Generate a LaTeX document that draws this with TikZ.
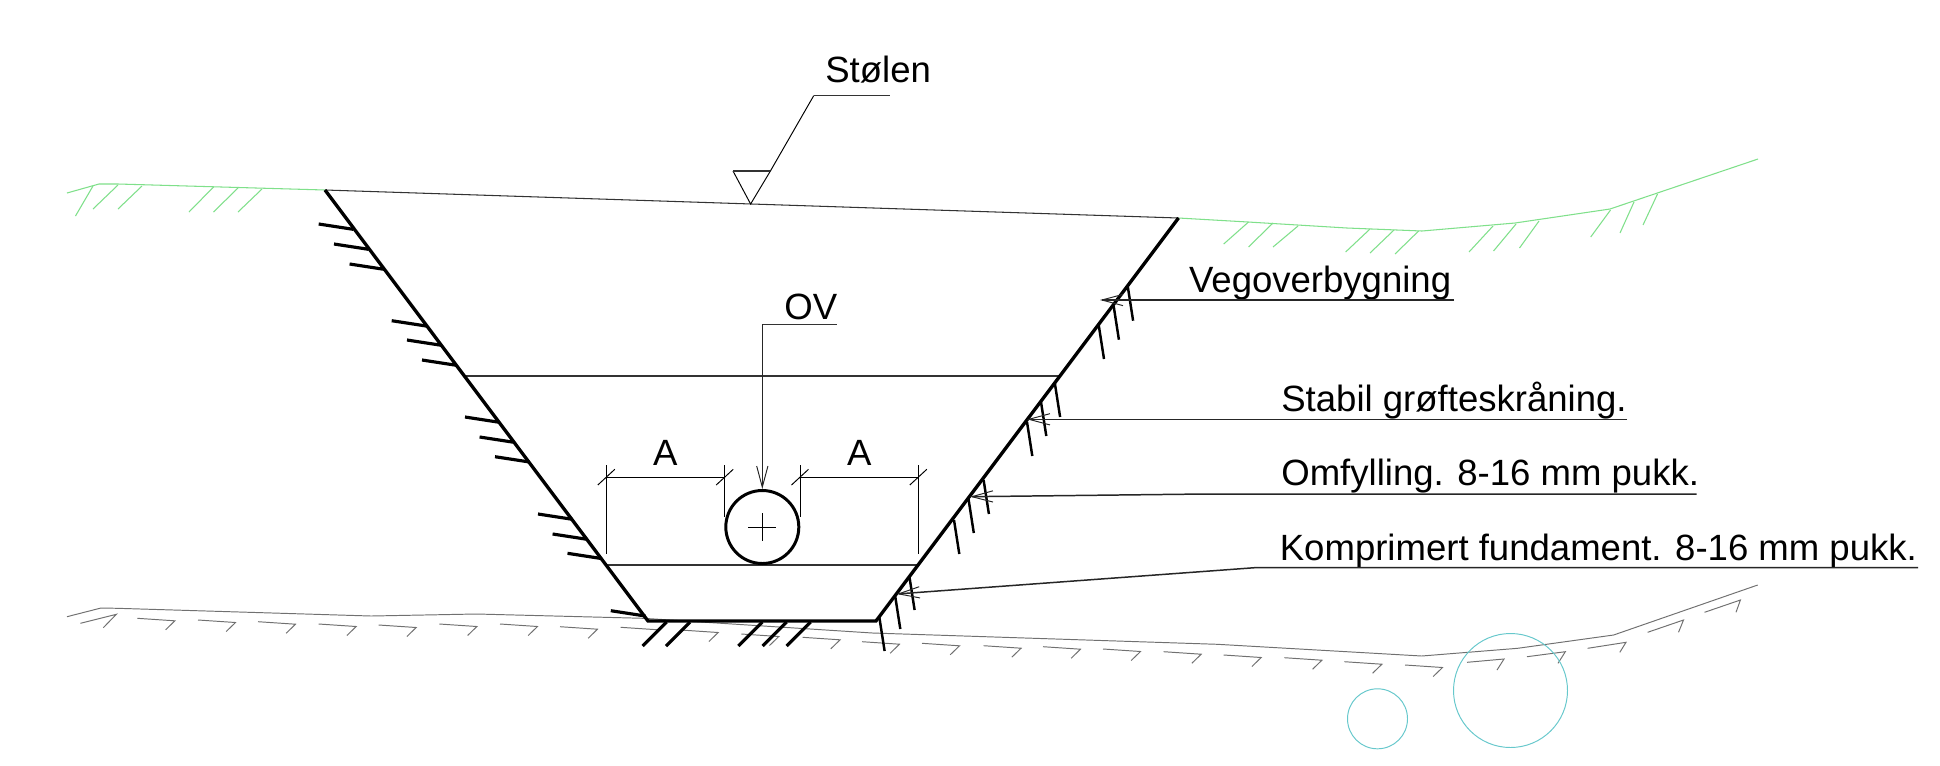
\documentclass[tikz,border=0pt]{standalone}
\usepackage{fontspec}
\setmainfont{Liberation Sans}
\usetikzlibrary{arrows.meta}
\definecolor{grasscol}{HTML}{7FE08A}
\definecolor{rockcol}{HTML}{707070}
\definecolor{markcol}{HTML}{66C8CC}
\tikzset{
    trench/.style={line width=1.9pt},
    hatchleft/.style={line width=1.8pt},
    hatchright/.style={line width=1.4pt},
    level/.style={line width=0.6pt, black!80},
    thinline/.style={line width=0.55pt},
    grass/.style={line width=0.6pt, grasscol},
    rock/.style={line width=0.55pt, rockcol},
    marker/.style={line width=0.55pt, markcol},
    leader/.style={line width=0.85pt, black!85, -{Straight Barb[length=12pt, width=6.4pt, line width=0.55pt]}},
    underline/.style={line width=0.85pt, black!80},
    lbl/.style={anchor=base west, inner sep=0pt, font=\fontsize{20.8}{24}\selectfont},
}
\begin{document}
\begin{tikzpicture}[x=0.02cm, y=-0.02cm]
    \useasboundingbox (0, 0) rectangle (1940, 765);
        \fill[white] (0, 0) rectangle (1940, 765);
        % terrain
        \draw[grass] (67, 193) -- (99, 184) -- (118, 184) -- (325, 190);
        \draw[grass] (1178.5, 218) -- (1248, 222) -- (1347, 228) -- (1422, 231) -- (1515, 223) -- (1610, 209) -- (1758, 159);
        \foreach \xa/\ya/\xb/\yb in {93/186/75.5/216, 118/185/93/209, 142/186/118/209, 213.5/187/189/212, 238/188/213.5/212, 262/189/238/212, 1248.5/222/1223.7/244, 1273/223/1248.5/247, 1298/226/1273/247, 1370/229/1345.6/252, 1394/230/1370/253, 1418.6/231/1395/254, 1493/226/1469/252, 1516/224/1493.5/251, 1539/221/1519.5/248, 1610.5/210/1590.7/237, 1634/202/1620/233, 1657.5/194/1643/225}
            \draw[grass] (\xa, \ya) -- (\xb, \yb);
        \draw[rock] (67, 616.7) -- (101, 608) -- (117.6, 608.3) -- (371, 616) -- (476.5, 614) -- (643.6, 618.3) -- (872.5, 633) -- (1217.5, 644.3) -- (1421.7, 656) -- (1517.6, 648.3) -- (1613.6, 635) -- (1757.7, 585);
        \foreach \xa/\ya in {137.4/618.3, 198/620, 258/621.7, 318.7/624, 378.7/625, 439.4/624, 500/624, 560/626.7, 620.7/627.3, 680.7/630, 741.3/634, 802.6/637.3, 862/641.7, 922/643.3, 983.6/645.7, 1043/646.7, 1103/649, 1163.7/651.7, 1223.7/655, 1284.4/657.7, 1344.4/661.7, 1405/665}
            \draw[rock] (\xa, \ya) -- ++(37.5, 2.5) -- ++(-9.3, 9);
        \foreach \xa/\ya/\xb/\yb/\xc/\yc in {80.4/623.3/116.3/614.3/103.3/627.7, 1467/662.3/1504/659/1497/670, 1527/656.7/1565.3/651.7/1558/663.3, 1587.6/648.3/1626/642.3/1619.8/652.3, 1647.6/632.3/1683.5/620/1678.5/632.3, 1704.5/612.3/1740.4/600/1736/612.3}
            \draw[rock] (\xa, \ya) -- (\xb, \yb) -- (\xc, \yc);
        \draw[marker] (1377.5, 718.8) circle (30);
        \draw[marker] (1510.5, 690.5) circle (57);
        % trench
        \draw[level] (325, 190) -- (1178.5, 218);
        \draw[level] (464, 376) -- (1059, 376);
        \draw[level] (605, 565) -- (917, 565);
        \draw[trench, line join=miter] (325, 190) -- (648, 621) -- (876, 621) -- (1178.5, 218);
        \foreach \xa/\ya in {318.7/224, 334/244, 349.6/264, 391.7/320.7, 407/340, 422/360, 465/417, 479.6/437, 495/456.7, 538/514, 552.6/534, 567.5/553.3, 610.8/610.7}
            \draw[hatchleft] (\xa, \ya) -- ++(34.5, 5.3);
        \foreach \xa in {666.7, 690, 762.3, 786.7, 810.7}
            \draw[hatchleft] (\xa, 622) -- ++(-24, 24);
        \foreach \xa/\ya in {1127.8/286.7, 1113.6/305.7, 1098.7/325, 1054.8/383, 1041/402, 1027/422, 983.6/480, 968.5/499, 954/520, 909.3/576, 895/595, 879.3/617}
            \draw[hatchright] (\xa, \ya) -- ++(5.3, 34);
        % pipe
        \coordinate (pipe) at (762.3, 527);
        \draw[line width=1.7pt] (pipe) circle (36.5);
        \draw[thinline] (748.3, 527) -- (776, 527);
        \draw[thinline] (762.3, 513.3) -- (762.3, 541);
        % dimensions
        \foreach \xa/\yb in {606.3/553.7, 724.7/517, 800/517, 918.3/553.7} {
            \draw[thinline] (\xa, 465) -- (\xa, \yb);
            \draw[thinline] (\xa-8.5, 485) -- (\xa+8.5, 469.3);
        }
        \draw[thinline] (606.3, 477.3) -- (724.7, 477.3);
        \draw[thinline] (800, 477.3) -- (918.3, 477.3);
        \node[lbl, anchor=base] (dimleft) at (665.3, 465.7) {A};
        \node[lbl, anchor=base] (dimright) at (859.3, 465.7) {A};
        % water level
        \node[lbl] (stolen) at (825, 82.7) {Stølen};
        \coordinate (stolenend) at (890, 95.7);
        \coordinate (stolenknee) at (813.7, 95.7);
        \coordinate (triright) at (770.4, 171);
        \coordinate (trileft) at (733, 171);
        \coordinate (triapex) at (750.6, 204);
        \draw[thinline] (stolenknee) -- (triright) -- (triapex) -- (trileft);
        \draw[underline] (trileft) -- (triright);
        \draw[underline] (stolenknee) -- (stolenend);
        % labels
        \node[lbl] (ov) at (784, 319.4) {OV};
        \coordinate (ovknee) at (762.3, 324.4);
        \coordinate (ovend) at (836.6, 324.4);
        \coordinate (ovtip) at (762.3, 489);
        \draw[underline] (ovknee) -- (ovend);
        \draw[leader, line width=0.55pt] (ovknee) -- (ovtip);
        \node[lbl] (vego) at (1188.7, 292.7) {Vegoverbygning};
        \coordinate (vegoend) at (1454, 300);
        \coordinate (vegotip) at (1100, 300);
        \draw[leader] (vegoend) -- (vegotip);
        \node[lbl] (stabil) at (1281, 411.7) {Stabil grøfteskråning.};
        \coordinate (stabilend) at (1627, 419.3);
        \coordinate (stabiltip) at (1027, 419.3);
        \draw[leader] (stabilend) -- (stabiltip);
        \node[lbl] (omfyll) at (1281, 485) {Omfylling. 8-16 mm pukk.};
        \coordinate (omfyllend) at (1696.5, 494);
        \coordinate (omfyllknee) at (1205, 494);
        \coordinate (omfylltip) at (970, 496.7);
        \draw[leader] (omfyllend) -- (omfyllknee) -- (omfylltip);
        \node[lbl] (kompr) at (1279.5, 560) {Komprimert fundament. 8-16 mm pukk.};
        \coordinate (komprend) at (1918, 567.7);
        \coordinate (komprknee) at (1254.6, 567.7);
        \coordinate (komprtip) at (896.7, 594);
        \draw[leader] (komprend) -- (komprknee) -- (komprtip);
    \end{tikzpicture}
\end{document}
